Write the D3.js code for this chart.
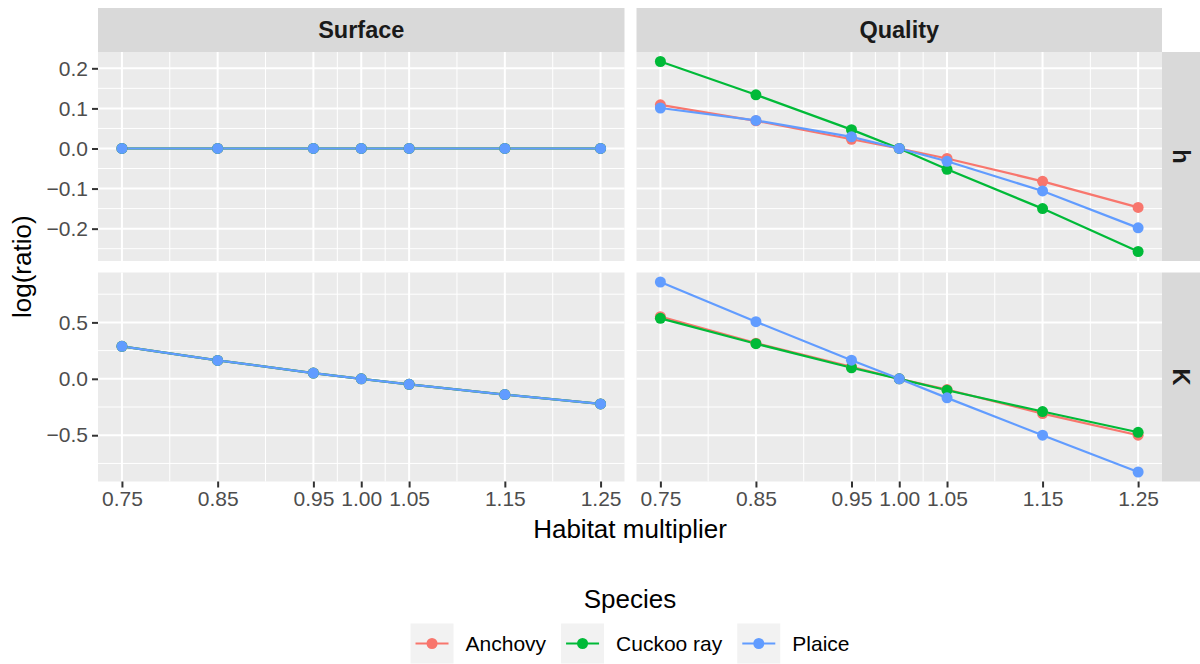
<!DOCTYPE html>
<html>
<head>
<meta charset="utf-8">
<script src="https://cdn.jsdelivr.net/npm/d3@7"></script>
<style>
  html, body { margin: 0; padding: 0; background: #fff; }
  svg { display: block; font-family: "Liberation Sans", Arial, sans-serif; }
</style>
</head>
<body>
<svg id="chart" width="1200" height="664"></svg>
<script>
// ---- data ----
const multipliers = [0.75, 0.85, 0.95, 1.00, 1.05, 1.15, 1.25];
const xTickLabels = ["0.75", "0.85", "0.95", "1.00", "1.05", "1.15", "1.25"];
const species = ["Anchovy", "Cuckoo ray", "Plaice"];
const colNames = ["Surface", "Quality"];
const rowNames = ["h", "K"];

// Surface, h
const surfaceH_Anchovy = [0, 0, 0, 0, 0, 0, 0];
const surfaceH_Cuckoo  = [0, 0, 0, 0, 0, 0, 0];
const surfaceH_Plaice  = [0, 0, 0, 0, 0, 0, 0];
// Surface, K
const surfaceK_Anchovy = [0.288, 0.163, 0.051, 0, -0.049, -0.140, -0.223];
const surfaceK_Cuckoo  = [0.288, 0.163, 0.051, 0, -0.049, -0.140, -0.223];
const surfaceK_Plaice  = [0.288, 0.163, 0.051, 0, -0.049, -0.140, -0.223];
// Quality, h
const qualityH_Anchovy = [0.109, 0.069, 0.023, 0, -0.025, -0.082, -0.147];
const qualityH_Cuckoo  = [0.217, 0.134, 0.047, 0, -0.052, -0.150, -0.257];
const qualityH_Plaice  = [0.101, 0.070, 0.029, 0, -0.032, -0.106, -0.198];
// Quality, K
const qualityK_Anchovy = [0.551, 0.316, 0.107, 0, -0.095, -0.308, -0.500];
const qualityK_Cuckoo  = [0.536, 0.311, 0.098, 0, -0.101, -0.290, -0.474];
const qualityK_Plaice  = [0.858, 0.506, 0.165, 0, -0.169, -0.500, -0.826];

const yTicksH = [-0.2, -0.1, 0.0, 0.1, 0.2];
const yMinorH = [-0.25, -0.15, -0.05, 0.05, 0.15];
const yTicksK = [-0.5, 0.0, 0.5];
const yMinorK = [-0.75, -0.25, 0.25, 0.75];
const xMinor = [0.80, 0.90, 0.975, 1.025, 1.10, 1.20];

const colors = ["#F8766D", "#00BA38", "#619CFF"];

// panels table built from arrays
const panelData = {
  "Surface|h": [surfaceH_Anchovy, surfaceH_Cuckoo, surfaceH_Plaice],
  "Surface|K": [surfaceK_Anchovy, surfaceK_Cuckoo, surfaceK_Plaice],
  "Quality|h": [qualityH_Anchovy, qualityH_Cuckoo, qualityH_Plaice],
  "Quality|K": [qualityK_Anchovy, qualityK_Cuckoo, qualityK_Plaice]
};

// ---- layout ----
const svg = d3.select("#chart");
const cols = [{x0: 98, x1: 624.5}, {x0: 636.5, x1: 1162}];
const rows = [{y0: 52, y1: 261}, {y0: 272.5, y1: 481.5}];
const stripTop = 8;
const stripRightX1 = 1200;

const fmt = v => (v < 0 ? "\u2212" : "") + Math.abs(v).toFixed(1);

function expand(vals) {
  const mn = d3.min(vals), mx = d3.max(vals);
  const r = mx - mn;
  return [mn - 0.05 * r, mx + 0.05 * r];
}
const xDom = expand(multipliers);
const rowDomains = rowNames.map(rn => {
  const all = [];
  colNames.forEach(cn => panelData[cn + "|" + rn].forEach(a => all.push(...a)));
  return expand(all);
});
const rowTicks = [yTicksH, yTicksK];
const rowMinor = [yMinorH, yMinorK];

const xScales = cols.map(c => d3.scaleLinear().domain(xDom).range([c.x0, c.x1]));
const yScales = rows.map((r, i) => d3.scaleLinear().domain(rowDomains[i]).range([r.y1, r.y0]));

// ---- strips ----
cols.forEach((c, ci) => {
  svg.append("rect").attr("x", c.x0).attr("y", stripTop)
    .attr("width", c.x1 - c.x0).attr("height", rows[0].y0 - stripTop)
    .attr("fill", "#D9D9D9");
  svg.append("text").attr("x", (c.x0 + c.x1) / 2).attr("y", (stripTop + rows[0].y0) / 2)
    .attr("dy", "0.35em").attr("text-anchor", "middle")
    .attr("font-size", 23.5).attr("font-weight", "bold").attr("fill", "#1A1A1A")
    .text(colNames[ci]);
});
rows.forEach((r, ri) => {
  const x0 = cols[1].x1;
  svg.append("rect").attr("x", x0).attr("y", r.y0)
    .attr("width", stripRightX1 - x0).attr("height", r.y1 - r.y0)
    .attr("fill", "#D9D9D9");
  const cx = (x0 + stripRightX1) / 2, cy = (r.y0 + r.y1) / 2;
  svg.append("text").attr("transform", `translate(${cx},${cy}) rotate(90)`)
    .attr("dy", "0.35em").attr("text-anchor", "middle")
    .attr("font-size", 23.5).attr("font-weight", "bold").attr("fill", "#1A1A1A")
    .text(rowNames[ri]);
});

// ---- panels ----
const line = (xs, ys) => d3.line().x((d, i) => xs(multipliers[i])).y(d => ys(d));

rows.forEach((r, ri) => {
  cols.forEach((c, ci) => {
    const xs = xScales[ci], ys = yScales[ri];
    const g = svg.append("g");
    g.append("rect").attr("x", c.x0).attr("y", r.y0)
      .attr("width", c.x1 - c.x0).attr("height", r.y1 - r.y0).attr("fill", "#EBEBEB");
    // minor grid
    g.selectAll(".xmin").data(xMinor).join("line")
      .attr("x1", d => xs(d)).attr("x2", d => xs(d)).attr("y1", r.y0).attr("y2", r.y1)
      .attr("stroke", "#fff").attr("stroke-width", 1);
    g.selectAll(".ymin").data(rowMinor[ri]).join("line")
      .attr("y1", d => ys(d)).attr("y2", d => ys(d)).attr("x1", c.x0).attr("x2", c.x1)
      .attr("stroke", "#fff").attr("stroke-width", 1);
    // major grid
    g.selectAll(".xmaj").data(multipliers).join("line")
      .attr("x1", d => xs(d)).attr("x2", d => xs(d)).attr("y1", r.y0).attr("y2", r.y1)
      .attr("stroke", "#fff").attr("stroke-width", 2);
    g.selectAll(".ymaj").data(rowTicks[ri]).join("line")
      .attr("y1", d => ys(d)).attr("y2", d => ys(d)).attr("x1", c.x0).attr("x2", c.x1)
      .attr("stroke", "#fff").attr("stroke-width", 2);

    const series = panelData[colNames[ci] + "|" + rowNames[ri]];
    // lines
    series.forEach((vals, si) => {
      g.append("path").datum(vals).attr("d", line(xs, ys))
        .attr("fill", "none").attr("stroke", colors[si]).attr("stroke-width", 2.2);
    });
    // points
    series.forEach((vals, si) => {
      g.selectAll(null).data(vals).join("circle")
        .attr("cx", (d, i) => xs(multipliers[i])).attr("cy", d => ys(d))
        .attr("r", 5.5).attr("fill", colors[si]);
    });

    // y axis on left column
    if (ci === 0) {
      const ax = svg.append("g").attr("transform", `translate(${c.x0},0)`)
        .call(d3.axisLeft(ys).tickValues(rowTicks[ri]).tickFormat(fmt).tickSize(6).tickPadding(4));
      ax.select(".domain").remove();
      ax.selectAll(".tick line").attr("stroke", "#333333").attr("stroke-width", 2);
      ax.selectAll(".tick text").attr("font-size", 21).attr("fill", "#4D4D4D")
        .attr("font-family", "Liberation Sans, Arial, sans-serif");
    }
    // x axis on bottom row
    if (ri === rows.length - 1) {
      const ax = svg.append("g").attr("transform", `translate(0,${r.y1})`)
        .call(d3.axisBottom(xs).tickValues(multipliers)
          .tickFormat((d, i) => xTickLabels[i]).tickSize(6).tickPadding(4));
      ax.select(".domain").remove();
      ax.selectAll(".tick line").attr("stroke", "#333333").attr("stroke-width", 2);
      ax.selectAll(".tick text").attr("font-size", 21).attr("fill", "#4D4D4D")
        .attr("font-family", "Liberation Sans, Arial, sans-serif");
    }
  });
});

// ---- axis titles ----
svg.append("text").attr("x", (cols[0].x0 + cols[1].x1) / 2).attr("y", 538)
  .attr("text-anchor", "middle").attr("font-size", 26).attr("fill", "#000")
  .text("Habitat multiplier");
svg.append("text").attr("transform", `translate(31,${(rows[0].y0 + rows[1].y1) / 2}) rotate(-90)`)
  .attr("text-anchor", "middle").attr("font-size", 26).attr("fill", "#000")
  .text("log(ratio)");

// ---- legend ----
const legCx = (cols[0].x0 + cols[1].x1) / 2;
svg.append("text").attr("x", legCx).attr("y", 608).attr("text-anchor", "middle")
  .attr("font-size", 26).attr("fill", "#000").text("Species");

const keyW = 43, keyH = 40, keyGap = 12, itemGap = 15, keyY = 623.5;
const leg = svg.append("g");
const items = species.map((s, i) => {
  const g = leg.append("g");
  g.append("rect").attr("width", keyW).attr("height", keyH).attr("fill", "#F2F2F2");
  g.append("line").attr("x1", 5).attr("x2", keyW - 5).attr("y1", keyH / 2).attr("y2", keyH / 2)
    .attr("stroke", colors[i]).attr("stroke-width", 2.2);
  g.append("circle").attr("cx", keyW / 2).attr("cy", keyH / 2).attr("r", 5.5).attr("fill", colors[i]);
  const t = g.append("text").attr("x", keyW + keyGap).attr("y", keyH / 2).attr("dy", "0.35em")
    .attr("font-size", 21).attr("fill", "#000").text(s);
  return {g, w: keyW + keyGap + t.node().getComputedTextLength()};
});
const totalW = d3.sum(items, d => d.w) + itemGap * (items.length - 1);
let cx = legCx - totalW / 2;
items.forEach(it => {
  it.g.attr("transform", `translate(${cx},${keyY})`);
  cx += it.w + itemGap;
});
</script>
</body>
</html>
